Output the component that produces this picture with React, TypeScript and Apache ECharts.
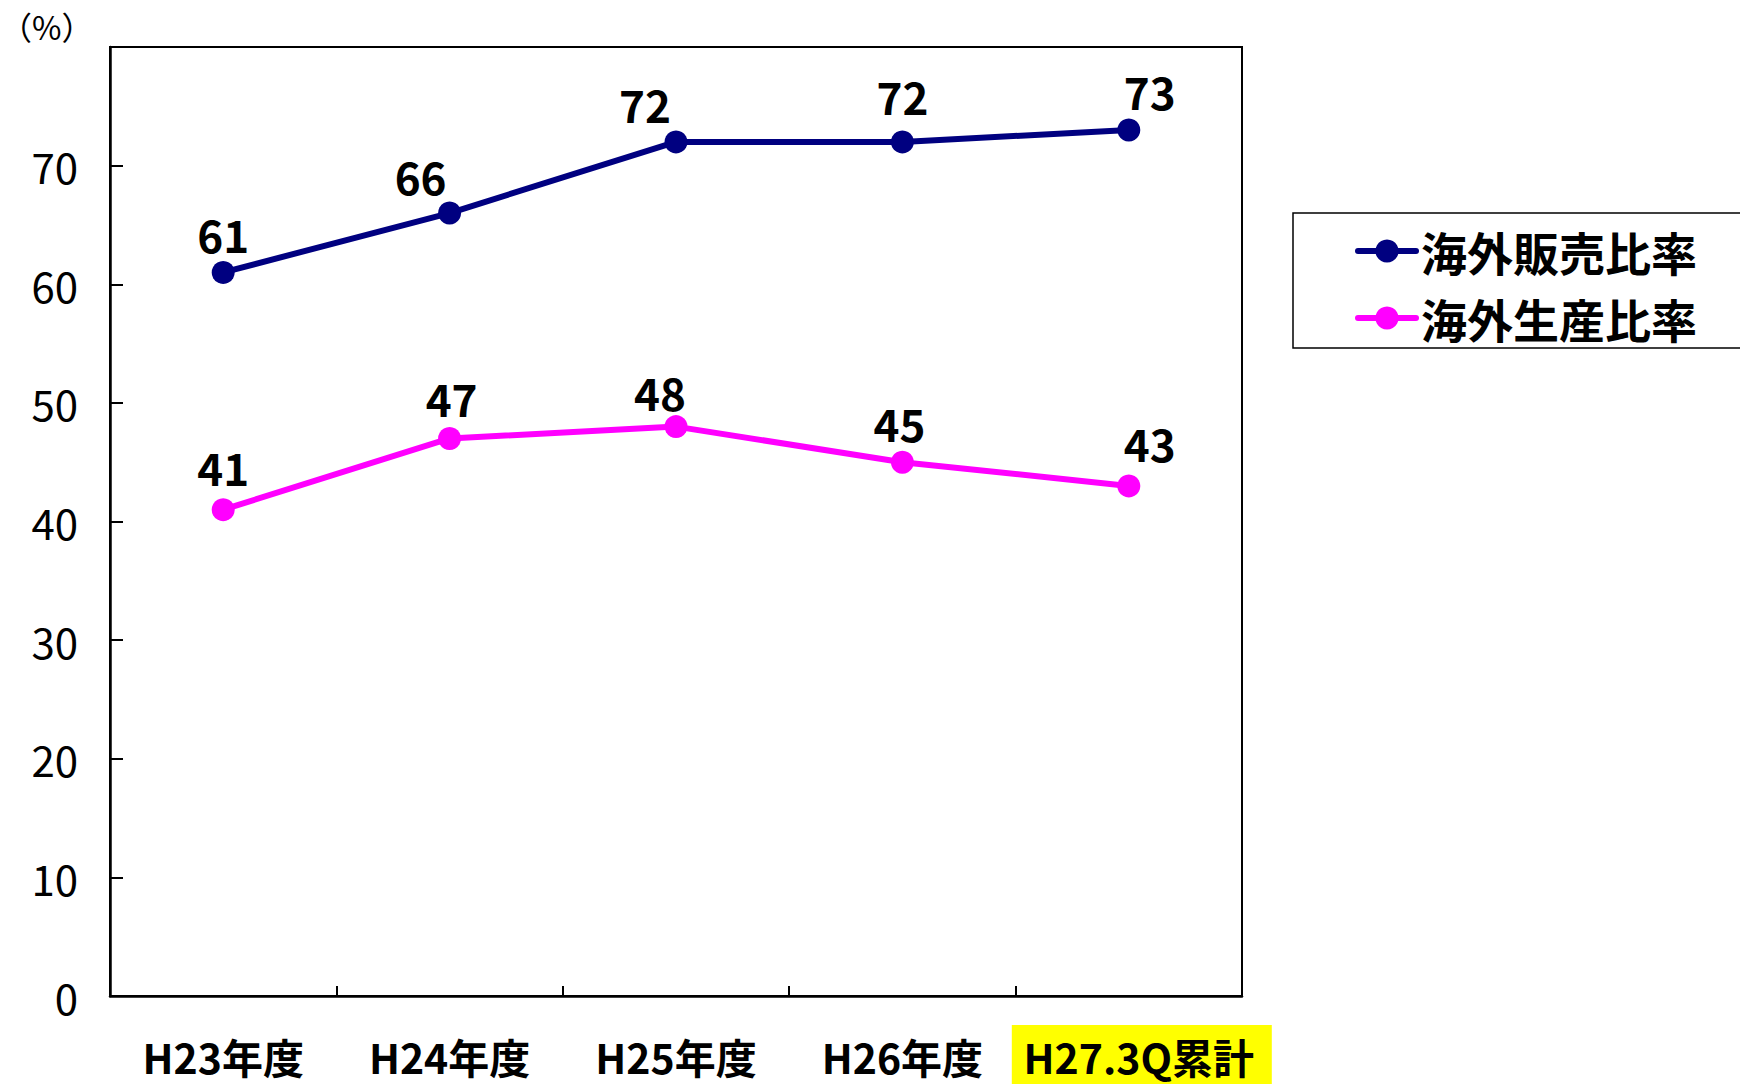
import React, { useEffect, useRef } from "react";
import * as echarts from "echarts";

const categories = ["H23年度", "H24年度", "H25年度", "H26年度", "H27.3Q累計"];
const salesRatio = [61, 66, 72, 72, 73];
const productionRatio = [41, 47, 48, 45, 43];
const seriesNames = ["海外販売比率", "海外生産比率"];
const yTicks = { min: 0, max: 80, interval: 10 };
const highlightedCategory = "H27.3Q累計";

// label nudges (style only)
const salesLabelNudge = [[0, -38], [-29, -37], [-31, -38], [0, -46], [21, -39]];
const prodLabelNudge = [[0, -43], [2, -40], [-16, -35], [-3, -39], [21, -43]];

const FONT = "'Noto Sans CJK JP', 'Noto Sans', sans-serif";

export default function App() {
  const ref = useRef<HTMLDivElement>(null);
  useEffect(() => {
    if (!ref.current) return;
    const chart = echarts.init(ref.current, null, { renderer: "svg" });
    const mkData = (vals: number[], nudges: number[][]) =>
      vals.map((v, i) => ({
        value: v,
        label: { offset: nudges[i] },
      }));
    const labelStyle = {
      show: true,
      position: "inside",
      color: "#000",
      fontFamily: FONT,
      fontSize: 44,
      fontWeight: "bold",
    };
    const xFont = { fontFamily: FONT, fontSize: 41, lineHeight: 41, fontWeight: "bold", color: "#000" };
    chart.setOption({
      animation: false,
      backgroundColor: "#fff",
      grid: {
        left: 110,
        top: 47,
        right: 498,
        bottom: 88,
        show: true,
        borderColor: "#000",
        borderWidth: 2,
        backgroundColor: "transparent",
        outerBoundsMode: "none",
        containLabel: false,
      },
      legend: {
        orient: "vertical",
        left: 1293,
        top: 213,
        padding: [15, 60, 7, 62],
        itemWidth: 58,
        itemHeight: 29,
        itemGap: 21,
        borderColor: "#000",
        borderWidth: 1.5,
        borderRadius: 0,
        backgroundColor: "#fff",
        lineStyle: { width: 6, cap: "round" },
        textStyle: {
          fontSize: 46,
          lineHeight: 46,
          fontWeight: "bold",
          color: "#000",
          fontFamily: FONT,
        },
        data: seriesNames,
      },
      xAxis: {
        type: "category",
        data: categories,
        boundaryGap: true,
        axisLine: { show: true, lineStyle: { color: "#000", width: 2.5 } },
        axisTick: { show: true, inside: true, length: 10, lineStyle: { color: "#000", width: 2 } },
        splitLine: { show: false },
        axisLabel: {
          interval: 0,
          margin: 39,
          ...xFont,
          formatter: (v: string) => (v === highlightedCategory ? `{s|${v}}` : v),
          rich: {
            s: { ...xFont, padding: [0, 0, 0, 20] },
          },
        },
      },
      yAxis: {
        type: "value",
        min: yTicks.min,
        max: yTicks.max,
        interval: yTicks.interval,
        axisLine: { show: true, lineStyle: { color: "#000", width: 2.5 } },
        axisTick: { show: true, inside: true, length: 13, lineStyle: { color: "#000", width: 2 } },
        splitLine: { show: false },
        axisLabel: {
          showMaxLabel: false,
          margin: 32,
          fontFamily: FONT,
          fontSize: 42,
          color: "#000",
          padding: [0, 0, 8, 0],
        },
      },
      series: [
        {
          name: seriesNames[0],
          type: "line",
          data: mkData(salesRatio, salesLabelNudge),
          symbol: "circle",
          symbolSize: 23,
          lineStyle: { color: "#000080", width: 6 },
          itemStyle: { color: "#000080" },
          label: labelStyle,
          z: 3,
        },
        {
          name: seriesNames[1],
          type: "line",
          data: mkData(productionRatio, prodLabelNudge),
          symbol: "circle",
          symbolSize: 23,
          lineStyle: { color: "#ff00ff", width: 6 },
          itemStyle: { color: "#ff00ff" },
          label: labelStyle,
          z: 3,
        },
      ],
    });
    const cx = chart.convertToPixel({ xAxisIndex: 0 }, highlightedCategory) as number;
    chart.setOption({
      graphic: [
        {
          type: "rect",
          z: -10,
          shape: { x: cx - 117, y: 1025, width: 260, height: 70 },
          style: { fill: "#ffff00" },
        },
        {
          type: "text",
          left: 0,
          top: 10,
          style: { text: "（%）", fontSize: 32, fontFamily: FONT, fill: "#000" },
        },
      ],
    });
    return () => chart.dispose();
  }, []);
  return (
    <div
      ref={ref}
      style={{ position: "absolute", left: 0, top: 0, width: 1740, height: 1084, background: "#fff" }}
    />
  );
}
